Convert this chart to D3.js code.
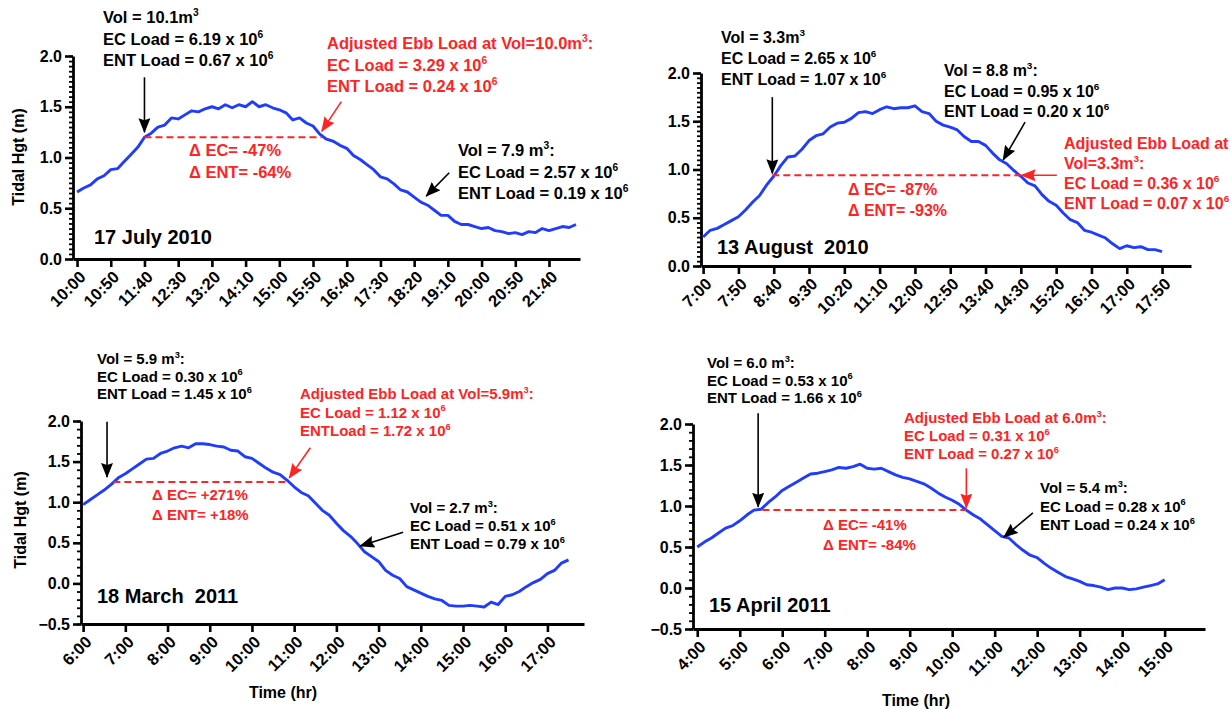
<!DOCTYPE html>
<html>
<head>
<meta charset="utf-8">
<script src="https://cdn.jsdelivr.net/npm/d3@7"></script>
<style>
  body { margin: 0; background: #fff; }
  svg { display: block; }
  text { font-family: "Liberation Sans", Arial, sans-serif; font-weight: bold; }
</style>
</head>
<body>
<svg id="chart" width="1231" height="709"></svg>
<script>
// ---- Tidal height series (m), one reading every 10 minutes ----
const stepMinutes = 10;

const july17Start = "10:00";
const july17Height = [
  0.66, 0.70, 0.73, 0.79, 0.82, 0.88, 0.89, 0.96, 1.03, 1.10,
  1.20, 1.24, 1.30, 1.32, 1.39, 1.38, 1.42, 1.46, 1.45, 1.48,
  1.50, 1.48, 1.52, 1.49, 1.52, 1.50, 1.55, 1.50, 1.52, 1.49,
  1.47, 1.44, 1.37, 1.39, 1.34, 1.31, 1.23, 1.18, 1.16, 1.12,
  1.09, 1.02, 0.98, 0.93, 0.88, 0.81, 0.79, 0.74, 0.68, 0.66,
  0.61, 0.56, 0.53, 0.48, 0.43, 0.43, 0.37, 0.34, 0.34, 0.32,
  0.30, 0.31, 0.28, 0.27, 0.25, 0.26, 0.24, 0.27, 0.26, 0.30,
  0.28, 0.30, 0.32, 0.31, 0.34
];

const aug13Start = "7:00";
const aug13Height = [
  0.30, 0.37, 0.39, 0.43, 0.47, 0.51, 0.58, 0.66, 0.73, 0.84,
  0.93, 1.04, 1.13, 1.14, 1.21, 1.30, 1.35, 1.37, 1.44, 1.48,
  1.49, 1.53, 1.59, 1.60, 1.58, 1.62, 1.65, 1.63, 1.64, 1.64,
  1.66, 1.60, 1.58, 1.50, 1.46, 1.44, 1.41, 1.34, 1.29, 1.29,
  1.25, 1.17, 1.10, 1.06, 0.99, 0.93, 0.86, 0.83, 0.74, 0.67,
  0.63, 0.55, 0.48, 0.45, 0.37, 0.35, 0.32, 0.29, 0.23, 0.18,
  0.21, 0.19, 0.20, 0.17, 0.17, 0.15
];

const mar18Start = "6:00";
const mar18Height = [
  0.97, 1.03, 1.09, 1.15, 1.22, 1.30, 1.35, 1.41, 1.47, 1.53,
  1.54, 1.60, 1.63, 1.67, 1.69, 1.67, 1.72, 1.72, 1.71, 1.69,
  1.68, 1.64, 1.63, 1.56, 1.54, 1.48, 1.42, 1.37, 1.34, 1.27,
  1.19, 1.12, 1.08, 0.99, 0.90, 0.84, 0.74, 0.65, 0.58, 0.49,
  0.39, 0.33, 0.27, 0.16, 0.10, 0.06, -0.04, -0.08, -0.12, -0.16,
  -0.19, -0.21, -0.27, -0.28, -0.28, -0.27, -0.28, -0.29, -0.23, -0.26,
  -0.16, -0.14, -0.10, -0.04, 0.01, 0.05, 0.12, 0.16, 0.25, 0.29
];

const apr15Start = "4:00";
const apr15Height = [
  0.50, 0.56, 0.61, 0.67, 0.73, 0.76, 0.82, 0.89, 0.95, 0.96,
  1.04, 1.11, 1.19, 1.24, 1.29, 1.34, 1.39, 1.40, 1.42, 1.44,
  1.47, 1.46, 1.48, 1.51, 1.46, 1.45, 1.46, 1.42, 1.38, 1.35,
  1.33, 1.30, 1.27, 1.22, 1.16, 1.11, 1.07, 1.02, 0.95, 0.89,
  0.84, 0.77, 0.70, 0.63, 0.61, 0.53, 0.46, 0.40, 0.37, 0.30,
  0.24, 0.19, 0.14, 0.11, 0.08, 0.04, 0.03, 0.01, -0.02, 0.00,
  0.00, -0.02, -0.01, 0.01, 0.03, 0.05, 0.10
];

// ---- Axis tick labels ----
const july17Ticks = ["10:00","10:50","11:40","12:30","13:20","14:10","15:00","15:50",
                     "16:40","17:30","18:20","19:10","20:00","20:50","21:40"];
const aug13Ticks  = ["7:00","7:50","8:40","9:30","10:20","11:10","12:00","12:50",
                     "13:40","14:30","15:20","16:10","17:00","17:50"];
const mar18Ticks  = ["6:00","7:00","8:00","9:00","10:00","11:00","12:00","13:00",
                     "14:00","15:00","16:00","17:00"];
const apr15Ticks  = ["4:00","5:00","6:00","7:00","8:00","9:00","10:00","11:00",
                     "12:00","13:00","14:00","15:00"];
const heightTicks2010 = [0, 0.5, 1.0, 1.5, 2.0];
const heightTicks2011 = [-0.5, 0, 0.5, 1.0, 1.5, 2.0];

// ---- Flood/ebb matching level and pointers (time, height) ----
const july17Match = { from: "11:40", to: "16:03", level: 1.20 };
const aug13Match  = { from: "8:38",  to: "14:30", level: 0.94 };
const mar18Match  = { from: "6:43",  to: "10:51", level: 1.25 };
const apr15Match  = { from: "5:32",  to: "10:20", level: 0.95 };

const july17Pointers = [
  { color: "black", from: ["11:40", 1.79], to: ["11:40", 1.25] },
  { color: "red",   from: ["16:32", 1.55], to: ["16:03", 1.26] },
  { color: "black", from: ["19:12", 0.85], to: ["18:38", 0.62] }
];
const aug13Pointers = [
  { color: "black", from: ["8:38", 1.75],  to: ["8:38", 0.96] },
  { color: "red",   from: ["15:21", 0.94], to: ["14:31", 0.94] },
  { color: "black", from: ["14:36", 1.49], to: ["14:05", 1.10] }
];
const mar18Pointers = [
  { color: "black", from: ["6:34", 1.99],  to: ["6:34", 1.31] },
  { color: "red",   from: ["11:23", 1.67], to: ["10:53", 1.30] },
  { color: "black", from: ["13:35", 0.63], to: ["12:34", 0.46] }
];
const apr15Pointers = [
  { color: "black", from: ["5:26", 2.13],  to: ["5:26", 0.99] },
  { color: "red",   from: ["10:20", 1.46], to: ["10:20", 0.98] },
  { color: "black", from: ["11:54", 0.915], to: ["11:13", 0.62] }
];

// ---- Load notes ("^n" marks a superscript) ----
const july17Notes = [
  { x: 103, y: 23, size: 16.5, lh: 21.5, color: "black",
    lines: ["Vol = 10.1m^3", "EC Load = 6.19 x 10^6", "ENT Load = 0.67 x 10^6"] },
  { x: 327, y: 49, size: 16.5, lh: 21.5, color: "red",
    lines: ["Adjusted Ebb Load at Vol=10.0m^3:", "EC Load = 3.29 x 10^6", "ENT Load = 0.24 x 10^6"] },
  { x: 189, y: 156, size: 16.5, lh: 22, color: "red",
    lines: ["\u0394 EC= -47%", "\u0394 ENT= -64%"] },
  { x: 458, y: 156, size: 16.5, lh: 21.5, color: "black",
    lines: ["Vol = 7.9 m^3:", "EC Load = 2.57 x 10^6", "ENT Load = 0.19 x 10^6"] }
];
const aug13Notes = [
  { x: 721, y: 43, size: 16, lh: 21, color: "black",
    lines: ["Vol = 3.3m^3", "EC Load = 2.65 x 10^6", "ENT Load = 1.07 x 10^6"] },
  { x: 944, y: 76, size: 16, lh: 20.5, color: "black",
    lines: ["Vol = 8.8 m^3:", "EC Load = 0.95 x 10^6", "ENT Load = 0.20 x 10^6"] },
  { x: 1064, y: 149, size: 16, lh: 20, color: "red",
    lines: ["Adjusted Ebb Load at", "Vol=3.3m^3:", "EC Load = 0.36 x 10^6", "ENT Load = 0.07 x 10^6"] },
  { x: 848, y: 195, size: 16, lh: 21, color: "red",
    lines: ["\u0394 EC= -87%", "\u0394 ENT= -93%"] }
];
const mar18Notes = [
  { x: 97, y: 364, size: 15, lh: 17.7, color: "black",
    lines: ["Vol = 5.9 m^3:", "EC Load = 0.30 x 10^6", "ENT Load = 1.45 x 10^6"] },
  { x: 300, y: 399, size: 15, lh: 18.5, color: "red",
    lines: ["Adjusted Ebb Load at Vol=5.9m^3:", "EC Load = 1.12 x 10^6", "ENTLoad = 1.72 x 10^6"] },
  { x: 152, y: 500, size: 15, lh: 20, color: "red",
    lines: ["\u0394 EC= +271%", "\u0394 ENT= +18%"] },
  { x: 410, y: 513, size: 15, lh: 18, color: "black",
    lines: ["Vol = 2.7 m^3:", "EC Load = 0.51 x 10^6", "ENT Load = 0.79 x 10^6"] }
];
const apr15Notes = [
  { x: 707, y: 368, size: 15, lh: 17.5, color: "black",
    lines: ["Vol = 6.0 m^3:", "EC Load = 0.53 x 10^6", "ENT Load = 1.66 x 10^6"] },
  { x: 904, y: 423, size: 15, lh: 18, color: "red",
    lines: ["Adjusted Ebb Load at 6.0m^3:", "EC Load = 0.31 x 10^6", "ENT Load = 0.27 x 10^6"] },
  { x: 823, y: 530, size: 15, lh: 20, color: "red",
    lines: ["\u0394 EC= -41%", "\u0394 ENT= -84%"] },
  { x: 1040, y: 493, size: 15, lh: 18.5, color: "black",
    lines: ["Vol = 5.4 m^3:", "EC Load = 0.28 x 10^6", "ENT Load = 0.24 x 10^6"] }
];

// ---- Panel layout ----
const panels = [
  { title: "17 July 2010", titleAt: [94, 244],
    start: july17Start, values: july17Height, ticks: july17Ticks, yTicks: heightTicks2010, minorStep: 0.05,
    xDomain: ["9:54", "22:26"], yDomain: [0, 2], left: 73, right: 580, top: 56, bottom: 259,
    match: july17Match, pointers: july17Pointers, notes: july17Notes,
    yTitleAt: [18, 157], xTitleAt: null },
  { title: "13 August\u00a0 2010", titleAt: [717, 254],
    start: aug13Start, values: aug13Height, ticks: aug13Ticks, yTicks: heightTicks2010, minorStep: 0.05,
    xDomain: ["6:57", "18:31"], yDomain: [0, 2], left: 701, right: 1191, top: 73, bottom: 266,
    match: aug13Match, pointers: aug13Pointers, notes: aug13Notes,
    yTitleAt: null, xTitleAt: null },
  { title: "18 March\u00a0 2011", titleAt: [97, 603],
    start: mar18Start, values: mar18Height, ticks: mar18Ticks, yTicks: heightTicks2011, minorStep: 0.1,
    xDomain: ["5:57", "17:52"], yDomain: [-0.5, 2], left: 81, right: 584, top: 421, bottom: 624,
    match: mar18Match, pointers: mar18Pointers, notes: mar18Notes,
    yTitleAt: [20, 520], xTitleAt: [283, 698] },
  { title: "15 April 2011", titleAt: [709, 612],
    start: apr15Start, values: apr15Height, ticks: apr15Ticks, yTicks: heightTicks2011, minorStep: 0.1,
    xDomain: ["3:54", "15:57"], yDomain: [-0.5, 2], left: 693, right: 1205, top: 424, bottom: 629,
    match: apr15Match, pointers: apr15Pointers, notes: apr15Notes,
    yTitleAt: null, xTitleAt: [916, 706] }
];

const BLUE = "#1f3cff";
const RED = "#ff2424";
const toMin = s => { const [h, m] = s.split(":").map(Number); return h * 60 + m; };

const svg = d3.select("#chart");

// arrowheads
const defs = svg.append("defs");
[["black", "#000"], ["red", RED]].forEach(([name, col]) => {
  defs.append("marker")
    .attr("id", "head-" + name)
    .attr("markerUnits", "userSpaceOnUse")
    .attr("viewBox", "0 0 15 12")
    .attr("markerWidth", 15).attr("markerHeight", 12)
    .attr("refX", 14).attr("refY", 6)
    .attr("orient", "auto")
    .append("path").attr("d", "M0,0 L15,6 L0,12 L2,6 Z").attr("fill", col);
});

// writes one line of text, turning "^n" into a raised small figure
function richLine(g, str, x, y, size, color) {
  const t = g.append("text").attr("x", x).attr("y", y)
    .attr("font-size", size).attr("fill", color === "red" ? RED : "#000");
  const parts = str.split(/\^(\d)/);
  let raised = false;
  parts.forEach((p, i) => {
    if (p === "") return;
    if (i % 2 === 1) {
      t.append("tspan").attr("font-size", size * 0.62).attr("dy", -size * 0.42).text(p);
      raised = true;
    } else {
      const ts = t.append("tspan").text(p);
      if (raised) { ts.attr("dy", size * 0.42); raised = false; }
    }
  });
}

panels.forEach(p => {
  const g = svg.append("g");
  const x = d3.scaleLinear().domain(p.xDomain.map(toMin)).range([p.left, p.right]);
  const y = d3.scaleLinear().domain(p.yDomain).range([p.bottom, p.top]);
  const t0 = toMin(p.start);
  const series = p.values.map((v, i) => ({ t: t0 + i * stepMinutes, v }));

  // y axis: minor then major ticks
  const minor = d3.range(p.yDomain[0], p.yDomain[1] + 1e-9, p.minorStep);
  g.append("g").attr("transform", `translate(${p.left},0)`)
    .call(d3.axisLeft(y).tickValues(minor).tickSize(4).tickSizeOuter(0).tickFormat(""))
    .call(a => a.select(".domain").remove())
    .call(a => a.selectAll("line").attr("stroke-width", 1.8));
  g.append("g").attr("transform", `translate(${p.left},0)`)
    .call(d3.axisLeft(y).tickValues(p.yTicks).tickSize(8).tickSizeOuter(0).tickPadding(3)
      .tickFormat(d3.format(".1f")))
    .call(a => a.select(".domain").attr("stroke-width", 2.8))
    .call(a => a.selectAll("line").attr("stroke-width", 2.6))
    .call(a => a.selectAll("text").attr("font-size", 16).attr("font-family", null).attr("fill", "#000"));

  // x axis with slanted clock labels
  g.append("g").attr("transform", `translate(0,${p.bottom})`)
    .call(d3.axisBottom(x).tickValues(p.ticks.map(toMin)).tickSize(8).tickSizeOuter(0)
      .tickFormat((d, i) => p.ticks[i]))
    .call(a => a.select(".domain").attr("stroke-width", 2.8))
    .call(a => a.selectAll("line").attr("stroke-width", 2.6))
    .call(a => a.selectAll("text")
      .attr("font-size", 16.5).attr("font-family", null).attr("fill", "#000")
      .attr("x", 0).attr("y", 0).attr("dy", "0.35em")
      .attr("text-anchor", "end")
      .attr("transform", "translate(5,15) rotate(-45)"));

  // tidal height trace
  g.append("path").datum(series)
    .attr("fill", "none").attr("stroke", BLUE).attr("stroke-width", 2.9)
    .attr("stroke-linejoin", "round")
    .attr("d", d3.line().x(d => x(d.t)).y(d => y(d.v)));

  // matching flood/ebb level
  g.append("line")
    .attr("x1", x(toMin(p.match.from))).attr("x2", x(toMin(p.match.to)))
    .attr("y1", y(p.match.level)).attr("y2", y(p.match.level))
    .attr("stroke", RED).attr("stroke-width", 2).attr("stroke-dasharray", "7,4");

  // pointers
  p.pointers.forEach(a => {
    g.append("line")
      .attr("x1", x(toMin(a.from[0]))).attr("y1", y(a.from[1]))
      .attr("x2", x(toMin(a.to[0]))).attr("y2", y(a.to[1]))
      .attr("stroke", a.color === "red" ? RED : "#000").attr("stroke-width", 1.6)
      .attr("marker-end", `url(#head-${a.color})`);
  });

  // notes
  p.notes.forEach(n => n.lines.forEach((s, i) => richLine(g, s, n.x, n.y + i * n.lh, n.size, n.color)));

  // date
  g.append("text").attr("x", p.titleAt[0]).attr("y", p.titleAt[1])
    .attr("font-size", 20).attr("fill", "#000").text(p.title);

  if (p.yTitleAt) {
    g.append("text").attr("transform", `translate(${p.yTitleAt[0]},${p.yTitleAt[1]}) rotate(-90)`)
      .attr("text-anchor", "middle").attr("dy", "0.35em").attr("font-size", 16).text("Tidal Hgt (m)");
  }
  if (p.xTitleAt) {
    g.append("text").attr("x", p.xTitleAt[0]).attr("y", p.xTitleAt[1])
      .attr("text-anchor", "middle").attr("font-size", 16).text("Time (hr)");
  }
});
</script>
</body>
</html>
